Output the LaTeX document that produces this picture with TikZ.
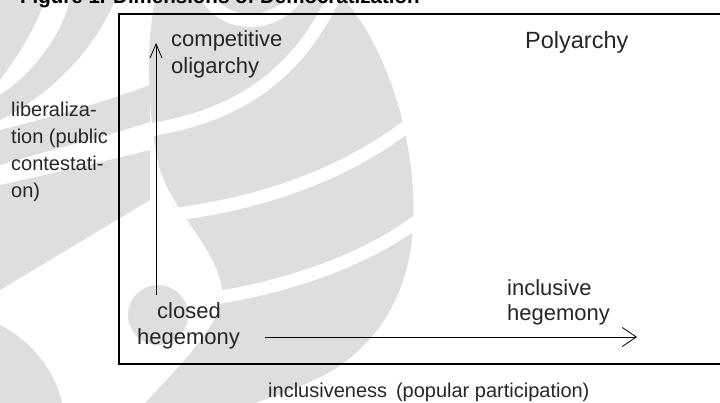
\documentclass[tikz,border=0pt]{standalone}
\usepackage{fontspec}
\setmainfont{Liberation Sans}
\usetikzlibrary{arrows.meta}
\begin{document}
\begin{tikzpicture}[x=1pt,y=-1pt,
  lbl/.style={font=\fontsize{22}{26}\selectfont, inner sep=0pt, anchor=base west, text=black!85},
  sidelbl/.style={lbl, font=\fontsize{20}{24}\selectfont},
  titlelbl/.style={inner sep=0pt, anchor=base west, font=\fontsize{20.5}{24}\selectfont\bfseries},
  vaxis/.style={line width=0.9pt, -{Straight Barb[length=14pt,width=12pt,line width=0.8pt]}},
  haxis/.style={line width=0.9pt, -{Straight Barb[length=14pt,width=19pt,line width=0.8pt]}},
  frame/.style={line width=1.1pt},
  wm/.style={fill=black!13, draw=none},
  gap/.style={draw=white, line width=13pt, line cap=round}]
\useasboundingbox (0,0) rectangle (720,403);

% faint background emblem
\begin{scope}
  \clip (0,0) rectangle (720,403);
  % main flame-shaped body
  \fill[wm] (155,0) -- (345,0) .. controls (395,60) and (420,160) .. (412,240)
    .. controls (405,300) and (375,345) .. (330,372)
    .. controls (300,388) and (270,398) .. (255,403) -- (145,403)
    .. controls (185,360) and (225,320) .. (222,290)
    .. controls (218,250) and (175,215) .. (160,170)
    .. controls (148,120) and (145,50) .. (155,0) -- cycle;
  % white grooves between the lobes
  \draw[gap] (205,-8) .. controls (220,28) and (275,32) .. (300,-8);
  \draw[gap] (150,130) .. controls (220,118) and (290,90) .. (335,-5);
  \draw[gap] (170,215) .. controls (250,205) and (340,180) .. (415,120);
  \draw[gap] (200,300) .. controls (280,290) and (370,260) .. (425,215);
  % curl at the lower left
  \fill[wm] (158,315) circle (30);
  % tendrils on the left
  \fill[wm] (0,0) -- (45,0) .. controls (35,30) and (15,60) .. (0,80) -- cycle;
  \fill[wm] (70,0) -- (115,0) .. controls (90,60) and (40,100) .. (0,120) -- (0,95)
    .. controls (30,75) and (60,40) .. (70,0) -- cycle;
  \fill[wm] (0,130) .. controls (50,118) and (110,100) .. (150,85) -- (150,122)
    .. controls (110,135) and (50,150) .. (0,165) -- cycle;
  \fill[wm] (0,185) .. controls (60,172) and (110,160) .. (150,150) -- (150,200)
    .. controls (100,230) and (50,260) .. (0,290) -- cycle;
  \fill[wm] (0,325) .. controls (30,340) and (55,370) .. (62,403) -- (0,403) -- cycle;
\end{scope}

% heading, mostly above the page edge
\node[titlelbl] (title) at (20,3.5) {Figure 1. Dimensions of Democratization};

% frame of the diagram (right side runs off the page)
\draw[frame] (119,14) rectangle (740,364);

% vertical axis label
\node[sidelbl] (lib1) at (11,117) {liberaliza-};
\node[sidelbl] (lib2) at (11,144) {tion (public};
\node[sidelbl] (lib3) at (11,171) {contestati-};
\node[sidelbl] (lib4) at (11,198) {on)};

% regime types
\node[lbl] (co1) at (171,47) {competitive};
\node[lbl] (co2) at (171,74) {oligarchy};
\node[lbl, font=\fontsize{23.5}{28}\selectfont] (poly) at (525,49) {Polyarchy};
\node[lbl] (ch1) at (157,318) {closed};
\node[lbl] (ch2) at (137,344) {hegemony};
\node[lbl] (ih1) at (507,295) {inclusive};
\node[lbl] (ih2) at (507,320) {hegemony};

% horizontal axis label
\node[sidelbl] (incl) at (268,397) {inclusiveness\, (popular participation)};

% axes
\coordinate (vS) at (156,295);
\coordinate (vE) at (156,43);
\coordinate (hS) at (265,337);
\coordinate (hE) at (637,337);
\draw[vaxis] (vS) -- (vE);
\draw[haxis] (hS) -- (hE);
\end{tikzpicture}
\end{document}
